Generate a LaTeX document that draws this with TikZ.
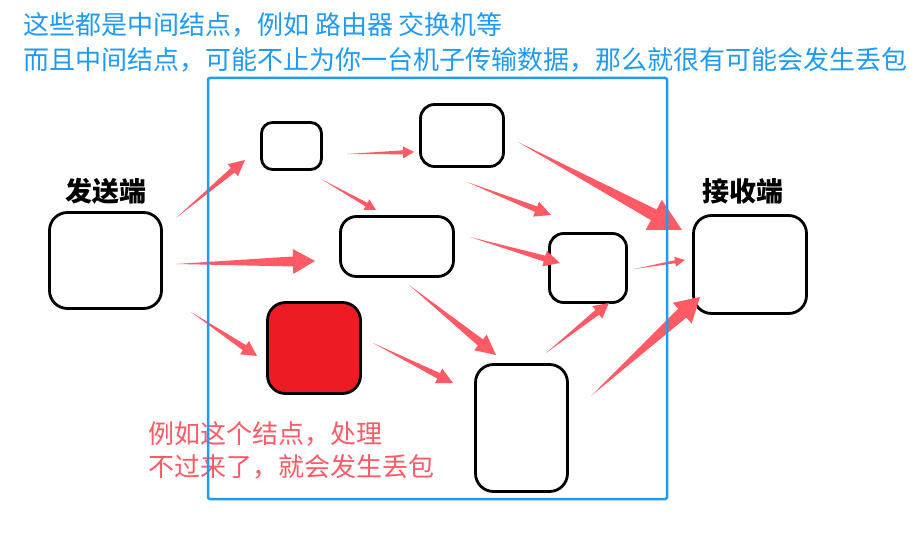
\documentclass[tikz,border=0pt]{standalone}
\usepackage{fontspec}
\newfontfamily\cjk{Noto Sans CJK SC}
\usepackage{tikz}
\usetikzlibrary{calc}
\usepackage{xcolor}
\definecolor{netblue}{HTML}{1E9BF5}
\definecolor{droppink}{HTML}{FF5A66}
\definecolor{lossred}{HTML}{ED1C24}
% tapered arrow: tail, tip, head length, head half width, body half width
\newcommand{\flowarrow}[5]{%
  \coordinate (ft) at (#1);
  \coordinate (fp) at (#2);
  \coordinate (fb) at ($(fp)!#3pt!(ft)$);
  \fill[droppink] (ft) -- ($(fb)!#5pt!90:(fp)$) -- ($(fb)!#4pt!90:(fp)$) -- (fp)
    -- ($(fb)!#4pt!-90:(fp)$) -- ($(fb)!#5pt!-90:(fp)$) -- cycle;
}

\begin{document}
\begin{tikzpicture}[x=1pt, y=-1pt,
    hop/.style={draw, line width=2.8pt, rounded corners=16pt, fill=white, inner sep=0pt},
    endlabel/.style={anchor=base, inner sep=0pt, font=\cjk\bfseries\fontsize{27}{30}\selectfont},
    note/.style={anchor=base west, inner sep=0pt, font=\cjk\fontsize{26}{30}\selectfont}]
    \useasboundingbox[fill=white] (0,0) rectangle (918,540);

    % hosts and hops
    \node[hop, minimum width=112pt, minimum height=96pt, rounded corners=18pt] (send) at (105.5,260.5) {};
    \node[hop, minimum width=60pt, minimum height=47pt, rounded corners=11pt] (hopa) at (291.5,146) {};
    \node[hop, minimum width=83pt, minimum height=62pt, rounded corners=14pt] (hopb) at (462,135.5) {};
    \node[hop, minimum width=113pt, minimum height=60pt] (hopc) at (397,246.5) {};
    \node[hop, minimum width=77pt, minimum height=69pt, rounded corners=14pt] (hopd) at (588,268) {};
    \node[hop, minimum width=92pt, minimum height=127pt, rounded corners=18pt] (hope) at (521.5,428) {};
    \node[hop, fill=lossred, minimum width=93pt, minimum height=91pt, rounded corners=18pt] (lost) at (314,348) {};
    \node[hop, minimum width=113pt, minimum height=98pt, rounded corners=18pt] (recv) at (750,264.5) {};

    \node[endlabel] (sendlbl) at (106,202) {发送端};
    \node[endlabel] (recvlbl) at (743,202) {接收端};

    % arrow ends
    \coordinate (send-a) at (176,218);   \coordinate (a-in) at (245,160);
    \coordinate (a-b) at (347,154);      \coordinate (b-in) at (414,152);
    \coordinate (a-c) at (321,179);      \coordinate (c-in) at (376,210);
    \coordinate (send-c) at (176,264);   \coordinate (c-left) at (315,261);
    \coordinate (b-recv) at (518,142);   \coordinate (recv-top) at (682,230);
    \coordinate (b-d) at (467,182);      \coordinate (d-top) at (551,215);
    \coordinate (c-d) at (470,237);      \coordinate (d-left) at (560,263);
    \coordinate (d-recv) at (634,269);   \coordinate (recv-mid) at (685,260);
    \coordinate (e-d) at (546,353);      \coordinate (d-low) at (609,303);
    \coordinate (c-e) at (409,285);      \coordinate (e-top) at (496,355);
    \coordinate (e-recv) at (591,396);   \coordinate (recv-low) at (700,297);
    \coordinate (send-lost) at (191,312); \coordinate (lost-in) at (257,356);
    \coordinate (lost-e) at (373,343);   \coordinate (e-left) at (453,383);

    \flowarrow{send-a}{a-in}{16}{8}{3}
    \flowarrow{a-b}{b-in}{11}{6}{2}
    \flowarrow{a-c}{c-in}{11}{6}{2}
    \flowarrow{send-c}{c-left}{22}{12.5}{5}
    \flowarrow{b-recv}{recv-top}{32}{17}{6}
    \flowarrow{b-d}{d-top}{16}{8}{3}
    \flowarrow{c-d}{d-left}{16}{8}{3}
    \flowarrow{d-recv}{recv-mid}{10}{5}{1.5}
    \flowarrow{e-d}{d-low}{15}{8}{3}
    \flowarrow{c-e}{e-top}{20}{10}{4}
    \flowarrow{e-recv}{recv-low}{24}{14}{6}
    \flowarrow{send-lost}{lost-in}{15}{8}{3}
    \flowarrow{lost-e}{e-left}{16}{8}{3}

    % notes
    \node[note, text=netblue] (note1) at (23,35) {这些都是中间结点，例如 路由器 交换机等};
    \node[note, text=netblue] (note2) at (23,70) {而且中间结点，可能不止为你一台机子传输数据，那么就很有可能会发生丢包};
    \node[note, text=droppink] (drop1) at (148,443) {例如这个结点，处理};
    \node[note, text=droppink] (drop2) at (148,476) {不过来了，就会发生丢包};

    \node[draw=netblue, line width=2.5pt, rounded corners=2pt, minimum width=459pt, minimum height=421pt] (midnet) at (437.5,288.5) {};
\end{tikzpicture}
\end{document}
